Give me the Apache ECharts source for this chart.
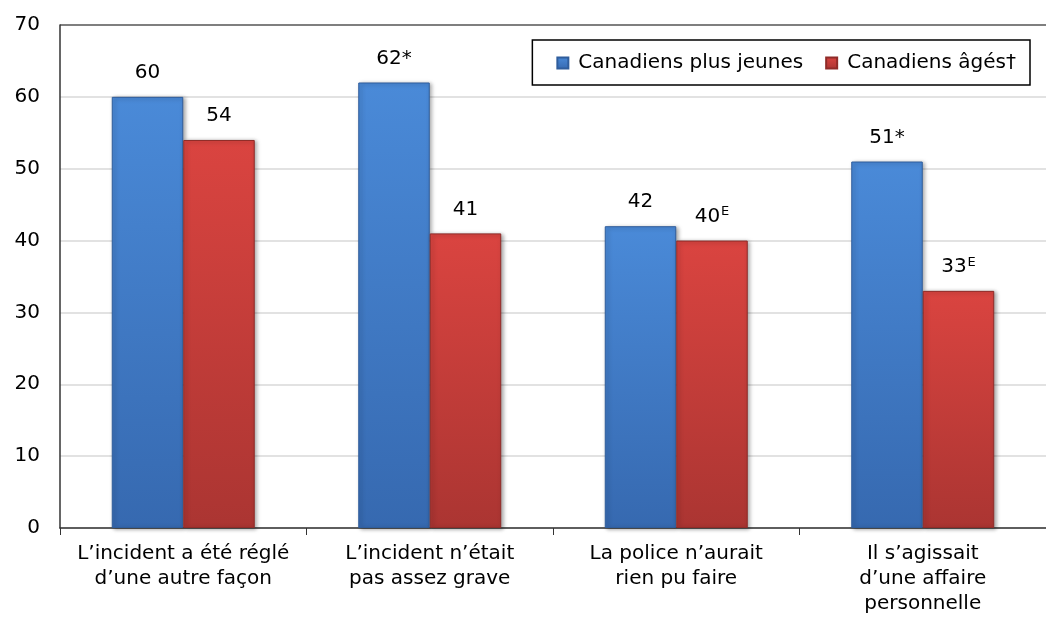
<!DOCTYPE html>
<html>
<head>
<meta charset="utf-8">
<script src="https://cdn.jsdelivr.net/npm/echarts@6/dist/echarts.min.js"></script>
<style>
  html, body { margin: 0; padding: 0; background: #fff; }
  #chart { width: 1046px; height: 618px; }
</style>
</head>
<body>
<div id="chart"></div>
<script>
const categories = [
  'L\u2019incident a été réglé\nd\u2019une autre façon',
  'L\u2019incident n\u2019était\npas assez grave',
  'La police n\u2019aurait\nrien pu faire',
  'Il s\u2019agissait\nd\u2019une affaire\npersonnelle'
];
const seriesNames = ['Canadiens plus jeunes', 'Canadiens âgés†'];
const youngerValues = [60, 62, 42, 51];
const olderValues = [54, 41, 40, 33];
// note marks shown next to each value label
const youngerMarks = ['', '*', '', '*'];
const olderMarks = ['', '', 'E', 'E'];
const yTicks = [0, 10, 20, 30, 40, 50, 60, 70];

const font = 'Verdana, "DejaVu Sans", sans-serif';
const fs = 20;

function grad(top, bottom) {
  return new echarts.graphic.LinearGradient(0, 0, 0, 1, [
    { offset: 0, color: top },
    { offset: 1, color: bottom }
  ]);
}

function labelFor(marks) {
  return {
    show: true,
    position: 'top',
    distance: 13,
    formatter: (p) => {
      const m = marks[p.dataIndex];
      if (m === 'E') return '{v|' + p.value + '}{sup|E}';
      return '{v|' + p.value + m + '}';
    },
    rich: {
      v: { fontSize: fs, color: '#000', fontFamily: font, lineHeight: 22 },
      sup: { fontSize: 13, color: '#000', fontFamily: font, lineHeight: 22, padding: [0, 0, 9, 1] }
    }
  };
}

const chart = echarts.init(document.getElementById('chart'));
const splitColors = yTicks.map((t, i) => (i === yTicks.length - 1 ? '#555' : '#d9d9d9'));

chart.setOption({
  animation: false,
  textStyle: { fontFamily: font },
  legend: {
    data: seriesNames,
    right: 16,
    top: 40,
    orient: 'horizontal',
    icon: 'rect',
    itemWidth: 11,
    itemHeight: 11,
    itemGap: 22,
    padding: [13, 14, 12, 24],
    borderColor: '#000',
    borderWidth: 1.5,
    textStyle: { fontSize: fs, color: '#000', fontFamily: font, padding: [0, 0, 0, 5] }
  },
  grid: { left: 60, right: 0, top: 25, bottom: 90, containLabel: false },
  xAxis: {
    type: 'category',
    data: categories,
    axisLine: { show: true, lineStyle: { color: '#333', width: 1.5 } },
    axisTick: { show: true, alignWithLabel: false, length: 7, lineStyle: { color: '#333' } },
    axisLabel: { fontSize: fs, color: '#000', fontFamily: font, lineHeight: 25, margin: 13, interval: 0 }
  },
  yAxis: {
    type: 'value',
    min: 0,
    max: 70,
    interval: 10,
    axisLine: { show: true, lineStyle: { color: '#333', width: 1.5 } },
    axisTick: { show: false },
    axisLabel: { fontSize: fs, color: '#000', fontFamily: font, margin: 20 },
    splitLine: { show: true, lineStyle: { color: splitColors, width: 1.5 } }
  },
  series: [
    {
      name: seriesNames[0],
      type: 'bar',
      data: youngerValues,
      barGap: '0%',
      barCategoryGap: '42%',
      itemStyle: {
        color: grad('#4a8ad8', '#3669b0'),
        borderColor: '#2f5d9c',
        borderWidth: 1,
        shadowColor: 'rgba(0,0,0,0.35)',
        shadowBlur: 4,
        shadowOffsetX: 2,
        shadowOffsetY: 1
      },
      label: labelFor(youngerMarks)
    },
    {
      name: seriesNames[1],
      type: 'bar',
      data: olderValues,
      itemStyle: {
        color: grad('#da4440', '#ab3532'),
        borderColor: '#8f2b28',
        borderWidth: 1,
        shadowColor: 'rgba(0,0,0,0.35)',
        shadowBlur: 4,
        shadowOffsetX: 2,
        shadowOffsetY: 1
      },
      label: labelFor(olderMarks)
    }
  ]
});
</script>
</body>
</html>
